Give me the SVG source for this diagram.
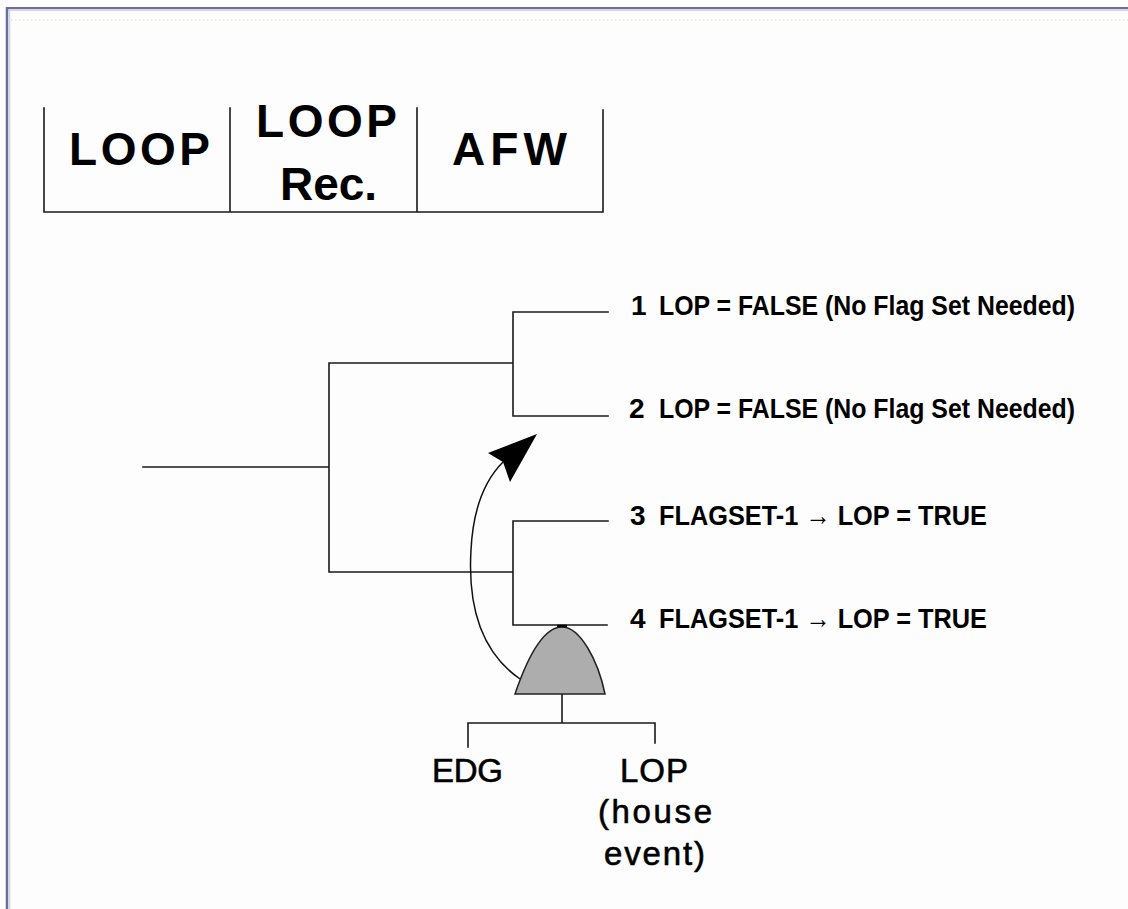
<svg xmlns="http://www.w3.org/2000/svg" width="1128" height="909" viewBox="0 0 1128 909">
<style>
.ln{stroke:#1a1a1a;stroke-width:1.6;fill:none;stroke-linecap:square}
.tb{font-family:"Liberation Sans",Arial,sans-serif;font-size:46px;font-weight:bold;fill:#000}
.rw{font-family:"Liberation Sans",Arial,sans-serif;font-size:28px;font-weight:bold;fill:#000}
.lb{font-family:"Liberation Sans",Arial,sans-serif;font-size:33px;fill:#000;stroke:#000;stroke-width:0.6}
</style>
<rect x="0" y="0" width="1128" height="909" fill="#fdfdfd"/>
<g id="frame">
<line x1="6" y1="8" x2="1128" y2="8" stroke="#6b6d9d" stroke-width="2"/>
<line x1="8" y1="10" x2="1128" y2="10" stroke="#c9cadf" stroke-width="1.5"/>
<line x1="7" y1="7" x2="7" y2="909" stroke="#6b6d9d" stroke-width="2.5"/>
<line x1="9.5" y1="10" x2="9.5" y2="909" stroke="#d2d3e4" stroke-width="1.5"/>
<line x1="11" y1="20" x2="1128" y2="20" stroke="#ece2cb" stroke-width="1.5" stroke-dasharray="1.5 2.5"/>
</g>
<g id="table">
<path class="ln" d="M44,108 V212 H603 V110 M230,108 V212 M417,108 V212"/>
<text class="tb" x="69" y="165" textLength="141">LOOP</text>
<text class="tb" x="256" y="137" textLength="141">LOOP</text>
<text class="tb" x="280" y="200" textLength="97">Rec.</text>
<text class="tb" x="452" y="165" textLength="115">AFW</text>
</g>
<g id="connectors">
<path class="ln" d="M143,467 H329 M329,363 V572 M329,363 H513 M329,572 H513 M513,312 V416 M513,312 H608 M513,416 H608 M513,521 V625 M513,521 H608 M513,625 H607"/>
<path class="ln" d="M562,694 V723 M468,723 H655 M468,723 V747 M655,723 V743"/>
<path d="M520,679 C478,650 468,600 471,550 C473,510 485,480 503,462" fill="none" stroke="#111" stroke-width="1.5"/>
<polygon points="537,434 488,453 503,462 510,482" fill="#000"/>
</g>
<g id="gate">
<path d="M515,694 C530,650 545,627 562,627 C580,627 598,660 605,694 Z" fill="#adadad" stroke="#222" stroke-width="1.5"/>
<line x1="557" y1="626" x2="567" y2="626" stroke="#000" stroke-width="2.5"/>
</g>
<g id="row1">
<text class="rw" x="631" y="315">1</text>
<text class="rw" x="659" y="315" textLength="416" lengthAdjust="spacingAndGlyphs">LOP = FALSE (No Flag Set Needed)</text>
</g>
<g id="row2">
<text class="rw" x="629" y="418">2</text>
<text class="rw" x="659" y="418" textLength="416" lengthAdjust="spacingAndGlyphs">LOP = FALSE (No Flag Set Needed)</text>
</g>
<g id="row3">
<text class="rw" x="630" y="525">3</text>
<text class="rw" x="659" y="525" textLength="328" lengthAdjust="spacingAndGlyphs">FLAGSET-1 → LOP = TRUE</text>
</g>
<g id="row4">
<text class="rw" x="630" y="628">4</text>
<text class="rw" x="659" y="628" textLength="328" lengthAdjust="spacingAndGlyphs">FLAGSET-1 → LOP = TRUE</text>
</g>
<g id="edg">
<text class="lb" x="432" y="782" textLength="71">EDG</text>
</g>
<g id="lop">
<text class="lb" x="620" y="782" textLength="68">LOP</text>
<text class="lb" x="598" y="823" textLength="114">(house</text>
<text class="lb" x="604" y="865" textLength="101">event)</text>
</g>
</svg>
